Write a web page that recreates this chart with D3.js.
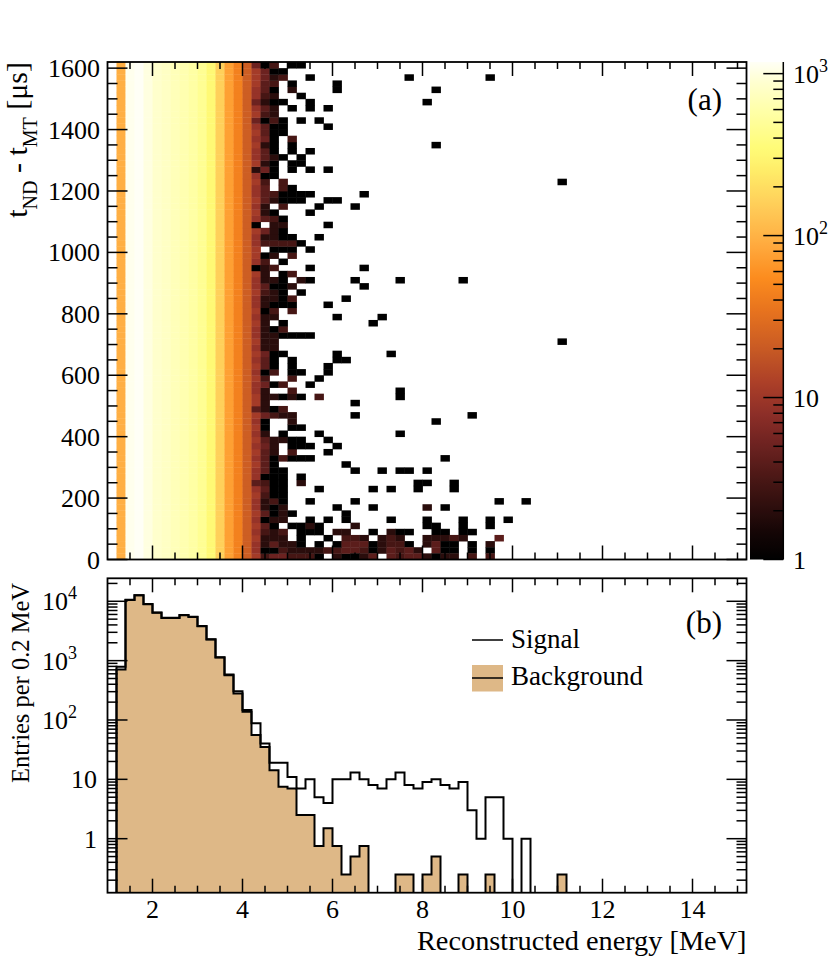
<!DOCTYPE html>
<html><head><meta charset="utf-8">
<script src="https://cdn.jsdelivr.net/npm/d3@7/dist/d3.min.js"></script>
<style>
body{margin:0;background:#fff}
svg{display:block}
svg text{font-family:'Liberation Serif','Times New Roman',Times,'DejaVu Serif',serif !important;fill:#000}
</style>
</head><body>
<svg id="c" width="830" height="958" font-family="Liberation Serif, Times New Roman, Times, DejaVu Serif, serif"></svg>
<script>
// ---------------- data ----------------
const energyRange = [1.0, 15.2];          // MeV
const energyBinWidth = 0.2;
const timeRange = [0, 1620];              // microseconds
const timeBinWidth = 20;
const energyTicks = [2, 4, 6, 8, 10, 12, 14];
const timeTicks = [0, 200, 400, 600, 800, 1000, 1200, 1400, 1600];
const countRange = [0.123, 24400];
const countTicks = [1, 10, 100, 1000, 10000];
const zMax = 1180;
const colorbarTicks = [1, 10, 100, 1000];

// palette (count -> colour)
const paletteValues = [1, 1.5, 2, 3, 5, 8, 12, 20, 35, 55, 90, 150, 250, 350, 600, 900, 1180];
const paletteColors = ["#000000","#160606","#2a0d0c","#461614","#6c2220","#8e2f28","#aa3e28","#c85a24",
                       "#e8741e","#fc8c1e","#ffac40","#ffcc58","#ffec68","#fffc78","#ffffaa","#ffffd2","#fffff6"];

// dense band: columns 1.2 ... 3.8 MeV (low edges), counts per 20 us cell
const bandColumnEnergies = [1.2, 1.4, 1.6, 1.8, 2.0, 2.2, 2.4, 2.6, 2.8, 3.0, 3.2, 3.4, 3.6, 3.8];
const bandColumnCounts   = [95, 1100, 1180, 1000, 850, 780, 700, 640, 560, 470, 330, 160, 75, 45];

// falling edge: columns 4.0 ... 6.2 MeV, one string per 20 us row (row 0 = 0-20 us)
const edgeStartEnergy = 4.0;
const levelKey = {".":0, "1":1, "2":2, "3":3, "4":4, "5":5, "7":9, "8":11, "b":22};
const edgeRows = [
 "b83553331.21","b71132222334","b724221.1.14","b8222.1..1.3","b7323.111.22",
 "b841.1121...","b7122..1.1.1","b84121.....1","b7212.....1.","b7231..1....",
 "b8311.......","b7411...1...","b4311.2.....","b7111.1.....","b7411.......",
 "b841.......1","b7413111....","b842.3...1..","b752.111..1.","b842211..1..",
 "b72.1...1...","b81..11.....","b71..2......","b85322......","b4213.......",
 "b82.........","b822121.3...","b72..3......","b7513..1....","b83..3..1...",
 "b713.11..1..","b841.1...1..","b741.1....11","b8511.....1.","b722........",
 "b822........","b7221111....","b7213.......","b82.1.......","b722......1.",
 "b813.3......","b72111...1..","b72213.....1","b8321.1.....","b74112......",
 "b7221.21....","b82.13......","b123...1....","b73.1.......","b812.3......",
 "b8.111.1....","b733331.....","b72211..1...","b8521.......","b1.22....1..",
 "b7431.......","b821...1....","b72.3...1...","b842111..11.","b7431111....",
 "b74.31......","b83.3.......","b711........","b251.1.1.1..","b821.11.....",
 "b7421.1.....","b741.1.1....","b821.1......","b751.3......","b8411.......",
 "b7411....1..","b5131.1.1...","b832........","b742.1.1.1..","b5211..1....",
 "b732..1.....","b741.2....1.","b843.1....1.","b8523..1....","b8511.......",
 "b513.11....."
];

// isolated cells beyond 6.4 MeV: [energy low edge, time low edge, count]
const sparseCells = [
 [7.6,1560,1],[9.4,1560,1],[8.2,1520,1],[8.0,1480,1],[8.2,1340,1],[11.0,1220,1],[6.6,1180,1],
 [6.4,1140,1],[6.6,940,1],[6.4,900,1],[7.4,900,1],[8.8,900,1],[6.6,880,1],[7.0,780,1],[6.8,760,1],
 [11.0,700,1],[7.2,660,1],[7.4,540,1],[7.4,520,1],[6.4,500,1],[6.4,460,1],[9.0,460,1],[8.2,440,1],
 [7.4,400,1],[8.4,320,1],[6.4,280,1],[7.0,280,1],[7.4,280,1],[7.6,280,1],[8.0,280,1],[7.8,240,1],
 [8.0,240,1],[8.6,240,1],[6.8,220,1],[7.2,220,1],[7.8,220,1],[8.6,220,1],[6.4,180,1],[9.6,180,1],
 [10.2,180,1],[6.8,160,1],[8.0,160,2],[8.4,160,1],[7.2,120,1],[8.0,120,1],[8.8,120,1],[9.4,120,1],
 [9.8,120,1],[6.4,100,2],[8.0,100,1],[8.2,100,1],[8.8,100,1],[9.4,100,1],[6.8,80,1],[7.2,80,2],
 [7.4,80,1],[7.6,80,1],[8.2,80,1],[8.4,80,1],[8.8,80,1],[9.0,80,1],
 [6.4,60,3],[6.6,60,2],[7.0,60,2],[7.2,60,3],[7.4,60,2],[8.0,60,2],[8.2,60,2],[8.4,60,2],[8.6,60,3],[8.8,60,2],[9.6,60,4],
 [6.4,40,4],[6.6,40,4],[6.8,40,1],[7.0,40,2],[7.2,40,3],[7.4,40,3],[7.6,40,1],[8.0,40,2],[8.2,40,4],[8.4,40,1],[8.6,40,1],[9.0,40,1],[9.4,40,2],
 [6.4,20,4],[6.6,20,3],[6.8,20,1],[7.0,20,2],[7.2,20,4],[7.4,20,3],[7.6,20,4],[7.8,20,2],[8.2,20,4],[8.4,20,1],[8.6,20,1],[9.0,20,1],[9.4,20,1],
 [6.4,0,1],[6.6,0,2],[6.8,0,4],[7.2,0,4],[7.4,0,3],[7.6,0,4],[7.8,0,4],[8.0,0,2],[8.2,0,1],[8.4,0,2],[8.6,0,2],[9.0,0,3],[9.4,0,3]
];

// lower panel: entries per 0.2 MeV bin, bins starting at 1.0 MeV
const signalCounts = [
 0, 790, 10600, 12700, 9000, 6450, 5300, 5300, 5880, 5500,
 3830, 2300, 1140, 585, 306, 147, 88, 40, 19, 19,
 11, 7, 10, 5, 4, 10, 10, 13, 10, 8,
 7, 10, 13, 8, 7, 9, 10, 8, 7, 9,
 3, 1, 5, 5, 1, 0, 1, 0, 0, 0,
 0, 0, 0, 0, 0, 0, 0, 0, 0, 0,
 0, 0, 0, 0, 0, 0, 0, 0, 0, 0, 0
];
const backgroundCounts = [
 0, 710, 10500, 12600, 8900, 6380, 5250, 5250, 5830, 5460,
 3800, 2280, 1130, 570, 280, 137, 56, 35, 14.25, 7.5,
 7, 2.5, 2.5, 0.75, 1.5, 0.75, 0.25, 0.5, 0.75, 0,
 0, 0, 0.25, 0.25, 0, 0.25, 0.5, 0, 0, 0.25,
 0, 0, 0.25, 0, 0, 0, 0, 0, 0, 0,
 0.25, 0, 0, 0, 0, 0, 0, 0, 0, 0,
 0, 0, 0, 0, 0, 0, 0, 0, 0, 0, 0
];

// ---------------- layout ----------------
const L = 107.5, R = 746.5;
const topT = 62, topB = 559.5, botT = 578.3, botB = 892.7;
const cbL = 750, cbR = 783.3;
const FONT = 26;
const SUP = 18;
const tan = "#deb887";

const svg = d3.select("#c");
const xE = d3.scaleLinear().domain(energyRange).range([L, R]);
const yT = d3.scaleLinear().domain(timeRange).range([topB, topT]);
const yN = d3.scaleLog().domain(countRange).range([botB, botT]);
const yZ = d3.scaleLog().domain([1, zMax]).range([topB, topT]);
const zColor = d3.scaleLog().domain(paletteValues).range(paletteColors).interpolate(d3.interpolateRgb).clamp(true);

const defs = svg.append("defs");
defs.append("clipPath").attr("id","clipTop").append("rect").attr("x",L).attr("y",topT).attr("width",R-L).attr("height",topB-topT);
defs.append("clipPath").attr("id","clipBot").append("rect").attr("x",L).attr("y",botT).attr("width",R-L).attr("height",botB-botT);

// ---------------- heat map ----------------
const cells = [];
bandColumnEnergies.forEach((e, i) => {
  const nRows = Math.round((timeRange[1] - timeRange[0]) / timeBinWidth);
  for (let r = 0; r < nRows; r++) cells.push({e, t: timeRange[0] + r * timeBinWidth, n: bandColumnCounts[i]});
});
edgeRows.forEach((s, r) => {
  s.split("").forEach((ch, j) => {
    const n = levelKey[ch];
    if (n > 0) cells.push({e: +(edgeStartEnergy + j * energyBinWidth).toFixed(2), t: r * timeBinWidth, n});
  });
});
sparseCells.forEach(([e, t, n]) => cells.push({e, t, n}));

svg.append("g").attr("clip-path","url(#clipTop)")
  .selectAll("rect").data(cells).join("rect")
  .attr("x", d => xE(d.e))
  .attr("y", d => yT(d.t + timeBinWidth))
  .attr("width", d => xE(d.e + energyBinWidth) - xE(d.e) + 0.4)
  .attr("height", d => yT(d.t) - yT(d.t + timeBinWidth) + 0.4)
  .attr("fill", d => zColor(d.n));

// ---------------- colour bar ----------------
const grad = defs.append("linearGradient").attr("id","pal").attr("x1",0).attr("y1",1).attr("x2",0).attr("y2",0);
d3.range(0, 201).forEach(i => {
  const f = i / 200;
  const v = Math.pow(zMax, f);
  grad.append("stop").attr("offset", f).attr("stop-color", zColor(v));
});
svg.append("rect").attr("x", cbL).attr("y", topT).attr("width", cbR - cbL).attr("height", topB - topT).attr("fill","url(#pal)");
const cbAxis = svg.append("g").attr("stroke","#000").attr("stroke-width",1.5);
cbAxis.append("line").attr("x1",cbR).attr("x2",cbR).attr("y1",topT).attr("y2",topB);
const cbMinor = [];
[1, 10, 100].forEach(d => [2,3,4,5,6,7,8,9].forEach(m => { if (d*m < zMax) cbMinor.push(d*m); }));
cbAxis.selectAll("line.mi").data(cbMinor).join("line").attr("class","mi")
  .attr("x1",cbR).attr("x2",cbR-10).attr("y1",d=>yZ(d)).attr("y2",d=>yZ(d));
cbAxis.selectAll("line.ma").data(colorbarTicks).join("line").attr("class","ma")
  .attr("x1",cbR).attr("x2",cbR-20).attr("y1",d=>yZ(d)).attr("y2",d=>yZ(d));
colorbarTicks.forEach(v => {
  const t = svg.append("text").attr("x", 793).attr("y", yZ(v) + 9).attr("font-size", FONT);
  const ex = Math.round(Math.log10(v));
  if (ex >= 2) { t.text("10"); t.append("tspan").attr("dy", -11).attr("font-size", SUP).text(ex); }
  else t.text(v);
});

// ---------------- lower panel histograms ----------------
function stepPath(vals) {
  const y = v => v > 0 ? yN(v) : botB + 2;
  let p = `M${xE(energyRange[0])},${botB + 2}`;
  vals.forEach((v, k) => {
    const lo = energyRange[0] + k * energyBinWidth, hi = lo + energyBinWidth;
    p += `L${xE(lo)},${y(v)}L${xE(hi)},${y(v)}`;
  });
  p += `L${xE(energyRange[1])},${botB + 2}`;
  return p;
}
const hg = svg.append("g").attr("clip-path","url(#clipBot)");
hg.append("path").attr("d", stepPath(backgroundCounts) + "Z").attr("fill", tan).attr("stroke","none");
hg.append("path").attr("d", stepPath(backgroundCounts)).attr("fill","none").attr("stroke","#000").attr("stroke-width",2);
hg.append("path").attr("d", stepPath(signalCounts)).attr("fill","none").attr("stroke","#000").attr("stroke-width",2);

// ---------------- frames & ticks ----------------
const ax = svg.append("g").attr("stroke","#000").attr("fill","none");
function frame(t, b) {
  ax.append("rect").attr("x",L).attr("y",t).attr("width",R-L).attr("height",b-t).attr("stroke-width",1.8);
}
frame(topT, topB);
frame(botT, botB);

const eMinor = d3.range(3, 31).map(i => i * 0.5).filter(v => energyTicks.indexOf(v) < 0 && v < energyRange[1]);
function xTicks(t, b) {
  [[energyTicks, 14], [eMinor, 7]].forEach(([vals, len]) => {
    vals.forEach(v => {
      ax.append("line").attr("x1",xE(v)).attr("x2",xE(v)).attr("y1",b).attr("y2",b-len).attr("stroke-width",1.5);
      ax.append("line").attr("x1",xE(v)).attr("x2",xE(v)).attr("y1",t).attr("y2",t+len).attr("stroke-width",1.5);
    });
  });
}
xTicks(topT, topB);
xTicks(botT, botB);

function yTicks(vals, scale, len) {
  vals.forEach(v => {
    ax.append("line").attr("x1",L).attr("x2",L+len).attr("y1",scale(v)).attr("y2",scale(v)).attr("stroke-width",1.5);
    ax.append("line").attr("x1",R).attr("x2",R-len).attr("y1",scale(v)).attr("y2",scale(v)).attr("stroke-width",1.5);
  });
}
const tMinor = d3.range(1, 33).map(i => i * 50).filter(v => timeTicks.indexOf(v) < 0);
yTicks(timeTicks, yT, 20);
yTicks(tMinor, yT, 10);
const nMinor = [];
[0.1, 1, 10, 100, 1000, 10000].forEach(d => [2,3,4,5,6,7,8,9].forEach(m => {
  const v = d * m; if (v > countRange[0] && v < countRange[1]) nMinor.push(v);
}));
yTicks(countTicks, yN, 20);
yTicks(nMinor, yN, 10);

// ---------------- labels ----------------
timeTicks.forEach(v => {
  svg.append("text").attr("x", 100).attr("y", yT(v) + 9).attr("text-anchor","end").attr("font-size",FONT).text(v);
});
countTicks.forEach(v => {
  const ex = Math.round(Math.log10(v));
  const t = svg.append("text").attr("y", yN(v) + 9).attr("text-anchor","end").attr("font-size",FONT);
  if (ex >= 2) { t.attr("x", 77).text("10"); t.append("tspan").attr("dy",-11).attr("font-size",SUP).text(ex); }
  else t.attr("x", 97).text(v);
});
energyTicks.forEach(v => {
  svg.append("text").attr("x", xE(v)).attr("y", 918).attr("text-anchor","middle").attr("font-size",FONT).text(v);
});
svg.append("text").attr("x", R).attr("y", 950).attr("text-anchor","end").attr("font-size",28.3).text("Reconstructed energy [MeV]");

const yt = svg.append("text").attr("transform","translate(27,62) rotate(-90)").attr("text-anchor","end").attr("font-size",30);
yt.append("tspan").text("t");
yt.append("tspan").attr("font-size",20).attr("dy",10).text("ND");
yt.append("tspan").attr("dy",-10).text(" - t");
yt.append("tspan").attr("font-size",20).attr("dy",10).text("MT");
yt.append("tspan").attr("dy",-10).text(" [μs]");

svg.append("text").attr("transform","translate(29,583) rotate(-90)").attr("text-anchor","end").attr("font-size",24.5).text("Entries per 0.2 MeV");

svg.append("text").attr("x",722).attr("y",110).attr("text-anchor","end").attr("font-size",31).text("(a)");
svg.append("text").attr("x",722).attr("y",633).attr("text-anchor","end").attr("font-size",31).text("(b)");

// legend
const lg = svg.append("g");
lg.append("line").attr("x1",472).attr("x2",503).attr("y1",640).attr("y2",640).attr("stroke","#000").attr("stroke-width",1.5);
lg.append("text").attr("x",511).attr("y",648).attr("font-size",FONT+1).text("Signal");
lg.append("rect").attr("x",472).attr("y",665).attr("width",31).attr("height",26.5).attr("fill",tan);
lg.append("line").attr("x1",472).attr("x2",503).attr("y1",678).attr("y2",678).attr("stroke","#000").attr("stroke-width",1.5);
lg.append("text").attr("x",511).attr("y",685).attr("font-size",FONT+1).text("Background");
</script>
</body></html>
